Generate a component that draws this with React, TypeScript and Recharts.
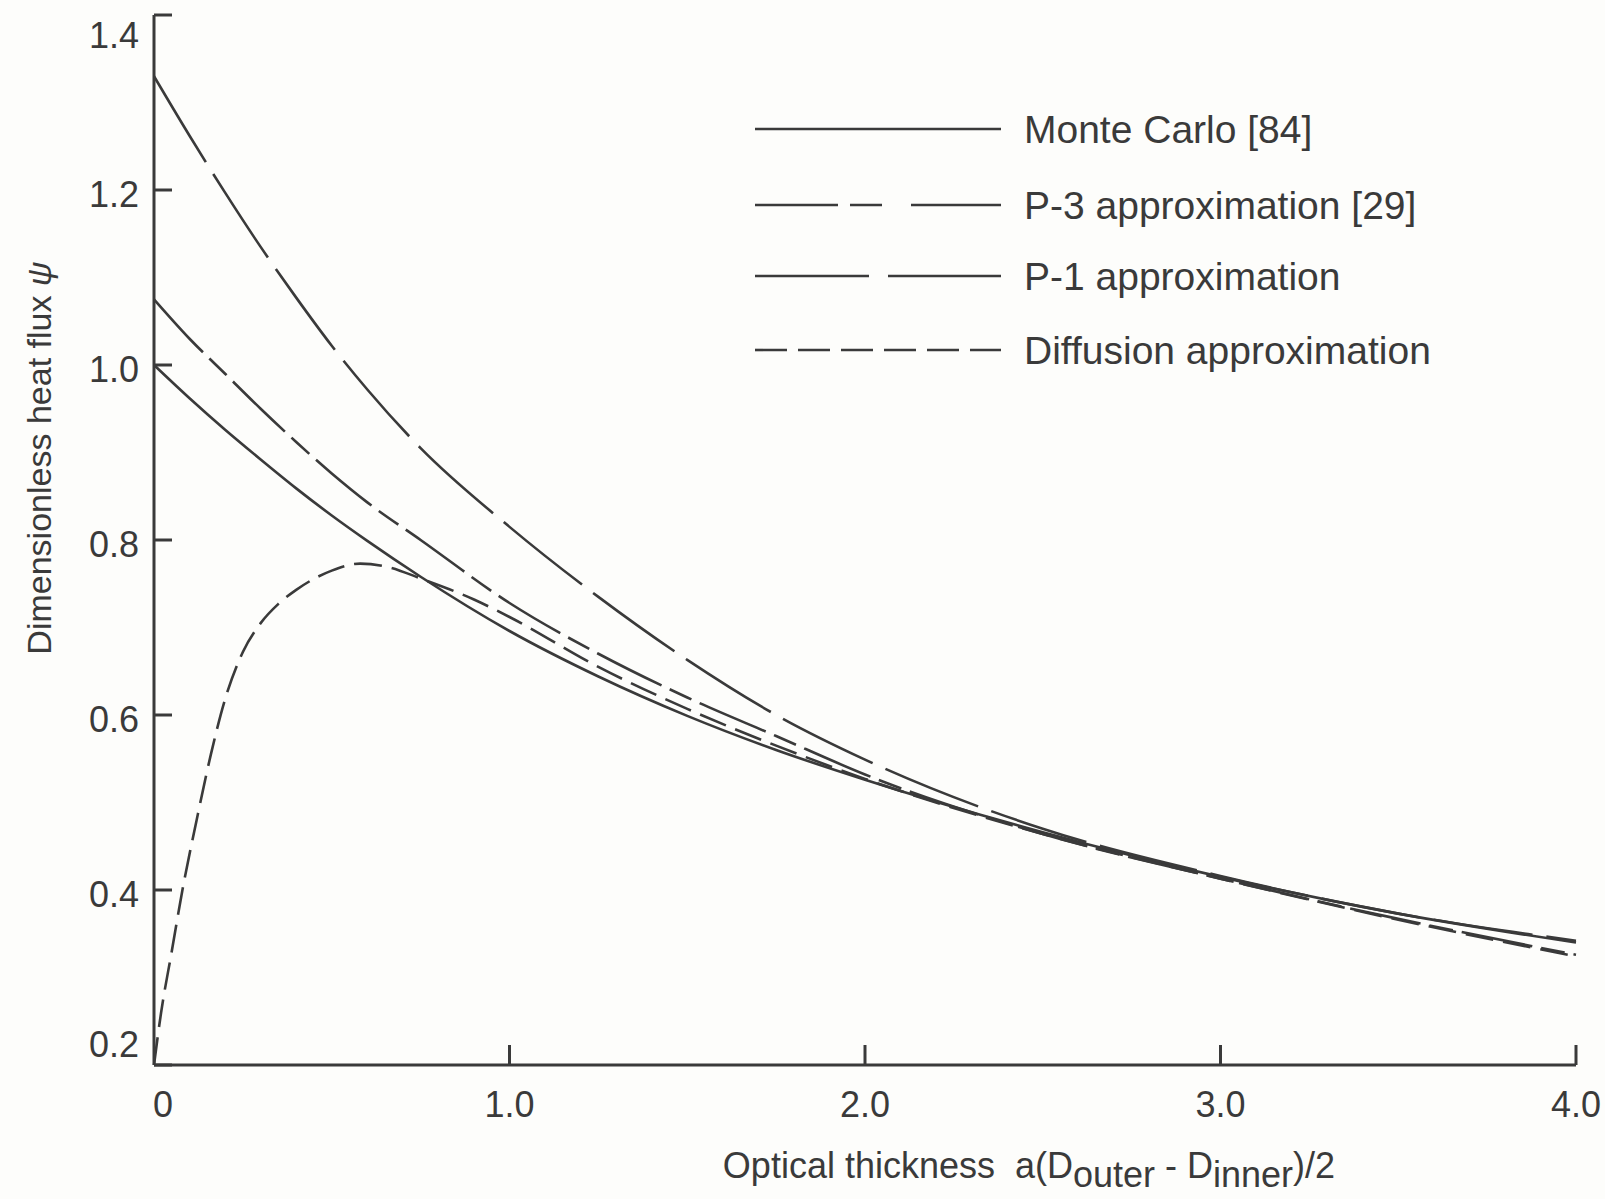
import { LineChart, Line, XAxis, YAxis, Label } from "recharts";

const INK = "#3a3a3a";
const FONT = "'Liberation Sans', Arial, sans-serif";

// optical thickness samples shared by the three upper curves
const thickness = [0, 0.1, 0.2, 0.3, 0.4, 0.5, 0.6, 0.75, 1.0, 1.25, 1.5, 1.75, 2.0, 2.5, 3.0, 3.5, 4.0];
const monteCarlo = [1.0, 0.962, 0.926, 0.892, 0.859, 0.828, 0.799, 0.758, 0.696, 0.644, 0.599, 0.56, 0.526, 0.466, 0.415, 0.373, 0.34];
const p1Approx = [1.33, 1.262, 1.197, 1.135, 1.077, 1.022, 0.972, 0.905, 0.815, 0.735, 0.663, 0.6, 0.549, 0.47, 0.416, 0.373, 0.342];
const p3Approx = [1.075, 1.03, 0.99, 0.95, 0.912, 0.876, 0.843, 0.8, 0.728, 0.67, 0.62, 0.576, 0.532, 0.464, 0.413, 0.367, 0.326];

// diffusion curve needs finer sampling near the wall
const diffusionThickness = [0, 0.02, 0.05, 0.08, 0.12, 0.16, 0.2, 0.25, 0.3, 0.35, 0.4, 0.5, 0.58, 0.66, 0.75, 0.9, 1.0, 1.25, 1.5, 1.75, 2.0, 2.5, 3.0, 3.5, 4.0];
const diffusionApprox = [0.2, 0.26, 0.33, 0.4, 0.48, 0.555, 0.618, 0.672, 0.705, 0.727, 0.743, 0.765, 0.773, 0.769, 0.756, 0.732, 0.712, 0.655, 0.607, 0.565, 0.527, 0.464, 0.413, 0.366, 0.324];

const xTicks = [0, 1, 2, 3, 4];
const xTickLabels = ["0", "1.0", "2.0", "3.0", "4.0"];
const yTicks = [0.2, 0.4, 0.6, 0.8, 1.0, 1.2, 1.4];

const toPoints = (xs: number[], ys: number[]) => xs.map((x, i) => ({ x, y: ys[i] }));

const series = [
  { name: "Monte Carlo [84]", data: toPoints(thickness, monteCarlo), dash: undefined, legendDash: undefined },
  { name: "P-3 approximation [29]", data: toPoints(thickness, p3Approx), dash: "72 9 24 9", legendDash: "83 12 32 29 90" },
  { name: "P-1 approximation", data: toPoints(thickness, p1Approx), dash: "100 14", legendDash: "114 19 113" },
  { name: "Diffusion approximation", data: toPoints(diffusionThickness, diffusionApprox), dash: "28 10", legendDash: "32 11" },
];

function YTick(props: any) {
  const { x, y, payload } = props;
  const v = payload.value as number;
  const dy = v > 1.39 ? 20 : v < 0.21 ? -21 : 4;
  return (
    <g>
      <line x1={x} x2={x + 18} y1={y} y2={y} stroke={INK} strokeWidth={3} />
      <text x={x - 15} y={y + dy} textAnchor="end" dominantBaseline="central" fontSize={36} fill={INK} fontFamily={FONT}>
        {v.toFixed(1)}
      </text>
    </g>
  );
}

function XTick(props: any) {
  const { x, y, payload } = props;
  const v = payload.value as number;
  return (
    <g>
      {v > 0 && <line x1={x} x2={x} y1={y} y2={y - 20} stroke={INK} strokeWidth={3} />}
      <text x={x + (v === 0 ? 9 : 0)} y={y + 39} textAnchor="middle" dominantBaseline="central" fontSize={36} fill={INK} fontFamily={FONT}>
        {xTickLabels[xTicks.indexOf(v)]}
      </text>
    </g>
  );
}

function LegendBox() {
  const rows = [34, 110, 181, 255];
  return (
    <svg width={740} height={290} style={{ position: "absolute", left: 740, top: 95 }}>
      {series.map((s, i) => (
        <g key={s.name}>
          <line x1={15} x2={261} y1={rows[i]} y2={rows[i]} stroke={INK} strokeWidth={2.6} strokeDasharray={s.legendDash} />
          <text x={284} y={rows[i]} dominantBaseline="central" fontSize={39} fill={INK} fontFamily={FONT}>
            {s.name}
          </text>
        </g>
      ))}
    </svg>
  );
}

export default function App() {
  return (
    <div style={{ position: "absolute", left: 0, top: 0, width: 1605, height: 1199, background: "#fdfdfb" }}>
      <LineChart width={1605} height={1199} margin={{ top: 15, right: 29, bottom: 0, left: 0 }}>
        <XAxis
          type="number"
          dataKey="x"
          domain={[0, 4]}
          ticks={xTicks}
          interval={0}
          height={134}
          tickSize={0}
          tickMargin={0}
          tickLine={false}
          axisLine={{ stroke: INK, strokeWidth: 3 }}
          tick={XTick}
        >
          <Label
            content={() => (
              <text x={1029} y={1165} textAnchor="middle" dominantBaseline="central" fontSize={36} fill={INK} fontFamily={FONT} style={{ whiteSpace: "pre" }}>
                {"Optical thickness  a(D"}
                <tspan dy={9}>outer</tspan>
                <tspan dy={-9}>{" - D"}</tspan>
                <tspan dy={9}>inner</tspan>
                <tspan dy={-9}>)/2</tspan>
              </text>
            )}
          />
        </XAxis>
        <YAxis
          type="number"
          dataKey="y"
          domain={[0.2, 1.4]}
          ticks={yTicks}
          interval={0}
          width={154}
          tickSize={0}
          tickMargin={0}
          tickLine={false}
          allowDataOverflow
          axisLine={{ stroke: INK, strokeWidth: 3 }}
          tick={YTick}
        >
          <Label
            content={() => (
              <text transform="translate(39,458) rotate(-90)" textAnchor="middle" dominantBaseline="central" fontSize={34} fill={INK} fontFamily={FONT}>
                Dimensionless heat flux <tspan fontStyle="italic">ψ</tspan>
              </text>
            )}
          />
        </YAxis>
        {series.map((s) => (
          <Line
            key={s.name}
            data={s.data}
            dataKey="y"
            name={s.name}
            type="monotone"
            stroke={INK}
            strokeWidth={2.6}
            strokeDasharray={s.dash}
            dot={false}
            activeDot={false}
            isAnimationActive={false}
          />
        ))}
      </LineChart>
      <LegendBox />
    </div>
  );
}
